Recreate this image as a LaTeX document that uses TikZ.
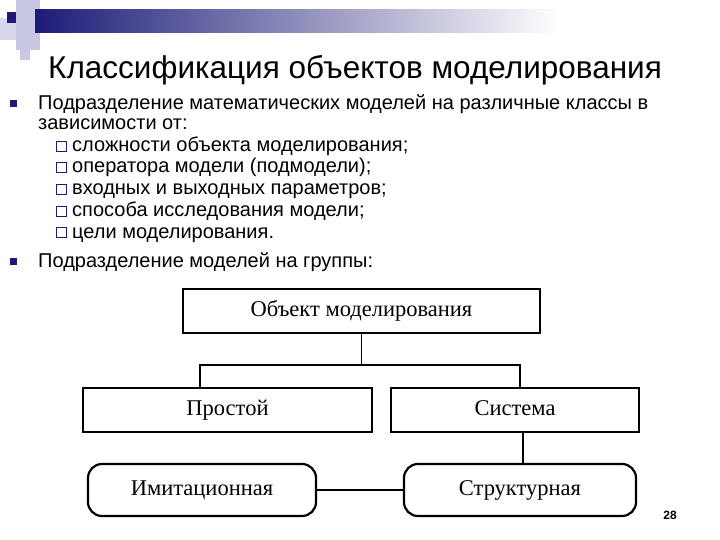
\documentclass[tikz,border=0pt]{standalone}
\usepackage{fontspec}
\setmainfont{Liberation Sans}
\newfontfamily\serifru{Liberation Serif}
\usetikzlibrary{shapes.misc}
\definecolor{navy}{RGB}{28,28,120}
\definecolor{lav}{RGB}{200,200,228}
\begin{document}
\begin{tikzpicture}[x=1pt,y=-1pt,
  sq/.style={draw,line width=2.2pt,minimum height=44pt,text height=15pt,text depth=4pt,font=\serifru\fontsize{22.5}{22.5}\selectfont},
  rd/.style={sq,rounded corners=14pt,minimum height=52pt},
  txt/.style={anchor=base west,font=\fontsize{20}{20}\selectfont,inner sep=0pt},
  bul/.style={fill=navy,minimum size=7pt,inner sep=0pt},
  chk/.style={draw=navy,line width=0.6pt,minimum size=10pt,inner sep=0pt},
  ln/.style={line width=1.6pt}]
\useasboundingbox (0,0) rectangle (720,540);
% header decoration
\fill[lav] (16,0) rectangle (40,50);
\fill[lav!70] (0,18) rectangle (16,40);
\fill[lav] (20,40) rectangle (30,60);
\shade[left color=navy,right color=white] (35,10) rectangle (560,33);
\fill[navy] (7,12) rectangle (16,23);
% title
\node[font=\fontsize{31.5}{31.5}\selectfont] (title) at (355,70) {Классификация объектов моделирования};
% bullets
\node[bul] (b1) at (13,104) {};
\node[txt] (t1) at (38,110) {Подразделение математических моделей на различные классы в};
\node[txt] (t2) at (38,130) {зависимости от:};
\foreach \y/\t [count=\i] in {152/сложности объекта моделирования;,173/оператора модели (подмодели);,195/входных и выходных параметров;,217/способа исследования модели;,238/цели моделирования.}{
  \node[chk] (c\i) at (61,\y-6) {};
  \node[txt] (s\i) at (72,\y) {\t};
}
\node[bul] (b2) at (13,261) {};
\node[txt] (t3) at (38,267) {Подразделение моделей на группы:};
% diagram
\node[sq,minimum width=357pt] (obj) at (361.5,311) {Объект моделирования};
\node[sq,minimum width=289pt] (pr) at (227.5,410) {Простой};
\node[sq,minimum width=248pt] (sys) at (515,410) {Система};
\node[rd,minimum width=228pt] (im) at (202,490) {Имитационная};
\node[rd,minimum width=232pt] (st) at (520,490) {Структурная};
\coordinate (m) at (361.5,365);
\draw[ln] (obj.south) -- (m);
\draw[ln] (pr.north -| 200,0) -- (200,365) -- (520,365) -- (sys.north -| 520,0);
\draw[ln] (sys.south -| 523,0) -- (st.north -| 523,0);
\draw[ln] (im.east) -- (st.west);
\node[font=\bfseries\fontsize{12}{12}\selectfont] (pg) at (670,515) {28};
\end{tikzpicture}
\end{document}
